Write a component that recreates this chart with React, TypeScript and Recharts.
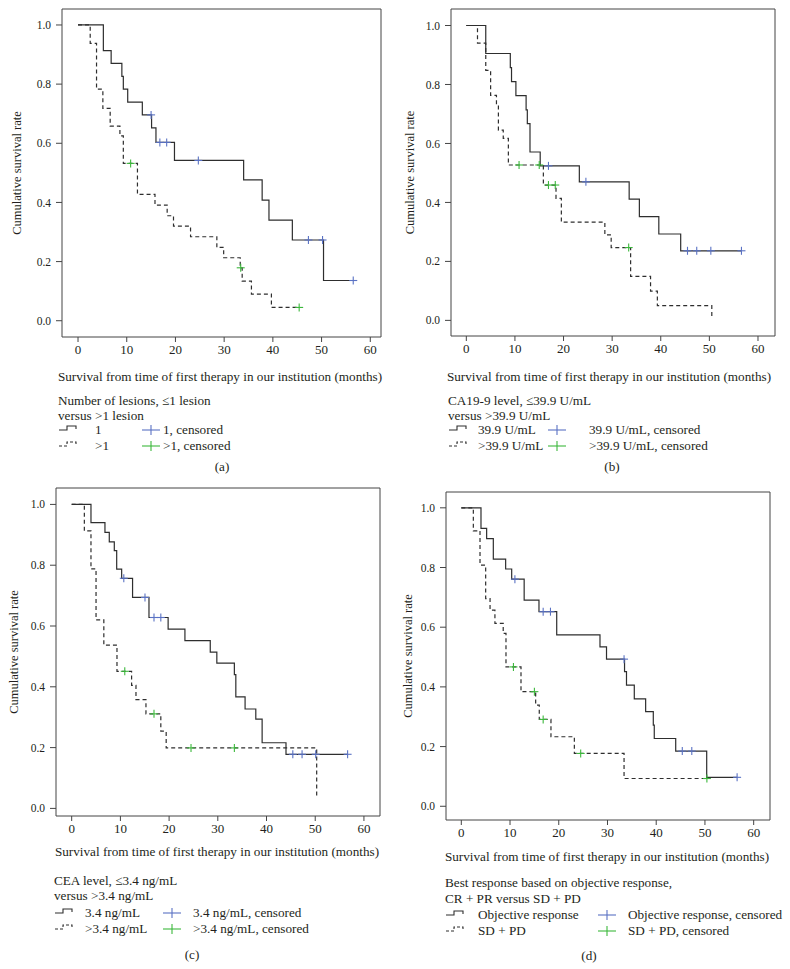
import React from 'react';
import { ComposedChart, Line, Scatter, XAxis, YAxis, ReferenceArea } from 'recharts';

// (a) number of lesions
const aMonths1 = [0, 5.2, 6.8, 9.0, 9.3, 10.2, 13.2, 15.1, 16.0, 19.8, 34.0, 37.8, 39.2, 44.0, 50.4, 56.5];
const aSurv1 = [1, 0.913, 0.87, 0.826, 0.783, 0.739, 0.696, 0.652, 0.603, 0.542, 0.476, 0.408, 0.34, 0.273, 0.136, 0.136];
const aCensMonths1 = [15.0, 16.8, 18.2, 24.7, 47.3, 50.2, 56.5];
const aCensSurv1 = [0.696, 0.603, 0.603, 0.542, 0.273, 0.273, 0.136];
const aMonths2 = [0, 2.5, 3.8, 5.1, 6.6, 8.6, 9.3, 12.2, 15.8, 18.3, 19.6, 23.1, 28.5, 29.9, 33.3, 33.7, 35.6, 39.7, 45.4];
const aSurv2 = [1, 0.938, 0.783, 0.718, 0.658, 0.625, 0.532, 0.427, 0.391, 0.355, 0.32, 0.284, 0.248, 0.213, 0.179, 0.134, 0.09, 0.045, 0.045];
const aCensMonths2 = [10.8, 33.4, 45.4];
const aCensSurv2 = [0.532, 0.179, 0.045];

// (b) CA19-9
const bMonths1 = [0, 4.0, 9.05, 9.3, 10.2, 12.3, 12.55, 13.1, 15.2, 23.25, 33.5, 35.6, 39.6, 44.1, 56.6];
const bSurv1 = [1, 0.905, 0.857, 0.81, 0.762, 0.714, 0.667, 0.571, 0.524, 0.47, 0.411, 0.352, 0.293, 0.236, 0.236];
const bCensMonths1 = [16.9, 24.6, 45.5, 47.4, 50.3, 56.6];
const bCensSurv1 = [0.524, 0.47, 0.236, 0.236, 0.236, 0.236];
const bMonths2 = [0, 2.3, 4.0, 5.0, 6.2, 6.6, 7.6, 8.65, 15.85, 18.45, 19.55, 28.5, 29.8, 33.8, 37.9, 39.3, 50.5];
const bSurv2 = [1, 0.94, 0.848, 0.763, 0.73, 0.645, 0.617, 0.527, 0.459, 0.414, 0.333, 0.29, 0.247, 0.149, 0.099, 0.05, 0.01];
const bCensMonths2 = [10.85, 15.0, 16.9, 18.3, 33.4];
const bCensSurv2 = [0.527, 0.527, 0.459, 0.459, 0.247];

// (c) CEA
const cMonths1 = [0, 3.96, 6.83, 7.72, 8.75, 9.24, 10.26, 12.5, 15.87, 19.8, 23.25, 28.45, 29.8, 33.4, 33.7, 35.6, 37.8, 39.1, 44.0, 56.65];
const cSurv1 = [1, 0.94, 0.908, 0.877, 0.848, 0.787, 0.757, 0.694, 0.628, 0.59, 0.552, 0.514, 0.478, 0.44, 0.367, 0.327, 0.294, 0.216, 0.178, 0.178];
const cCensMonths1 = [10.7, 15.05, 16.9, 18.3, 45.4, 47.3, 50.1, 56.65];
const cCensSurv1 = [0.757, 0.694, 0.628, 0.628, 0.178, 0.178, 0.178, 0.178];
const cMonths2 = [0, 2.6, 3.96, 5.0, 6.6, 9.3, 12.3, 13.2, 15.25, 18.3, 19.4, 50.3];
const cSurv2 = [1, 0.913, 0.788, 0.62, 0.537, 0.451, 0.405, 0.358, 0.311, 0.254, 0.199, 0.04];
const cCensMonths2 = [10.9, 16.9, 24.5, 33.4];
const cCensSurv2 = [0.451, 0.311, 0.199, 0.199];

// (d) best response
const dMonths1 = [0, 4.04, 5.2, 6.57, 9.1, 10.34, 12.9, 15.94, 19.58, 28.46, 29.8, 33.5, 33.9, 35.5, 37.83, 39.4, 39.6, 44.0, 50.36, 56.6];
const dSurv1 = [1, 0.931, 0.897, 0.828, 0.795, 0.761, 0.691, 0.652, 0.574, 0.534, 0.493, 0.451, 0.406, 0.36, 0.317, 0.272, 0.227, 0.185, 0.097, 0.097];
const dCensMonths1 = [11.0, 16.8, 18.3, 33.4, 45.35, 47.3, 56.6];
const dCensSurv1 = [0.761, 0.652, 0.652, 0.493, 0.185, 0.185, 0.097];
const dMonths2 = [0, 2.47, 3.84, 5.0, 5.9, 6.9, 8.6, 9.17, 12.25, 15.26, 16.0, 18.4, 23.2, 33.4, 50.4];
const dSurv2 = [1, 0.923, 0.808, 0.696, 0.657, 0.613, 0.579, 0.467, 0.384, 0.339, 0.291, 0.233, 0.177, 0.093, 0.093];
const dCensMonths2 = [10.7, 15.0, 16.8, 24.5, 50.4];
const dCensSurv2 = [0.467, 0.384, 0.291, 0.177, 0.093];

const monthTicks = [0, 10, 20, 30, 40, 50, 60];
const survTicks = [0, 0.2, 0.4, 0.6, 0.8, 1.0];
const xTitle = 'Survival from time of first therapy in our institution (months)';
const yTitle = 'Cumulative survival rate';

const zip = (t: number[], s: number[]) => t.map((v, i) => ({ t: v, s: s[i] }));

const FONT = '"Liberation Serif", "Times New Roman", serif';
const INK = '#231f20';
const LINE = '#2e2e2e';
const BLUE = '#5a72c4';
const GREEN = '#3cb83c';
const FS = 13.2;

const cross = (color: string) => (props: any) => {
  const { cx, cy } = props;
  if (cx == null || cy == null) return <g />;
  return (
    <g>
      <line x1={cx - 4} x2={cx + 4} y1={cy} y2={cy} stroke={color} strokeWidth={1.1} />
      <line x1={cx} x2={cx} y1={cy - 4} y2={cy + 4} stroke={color} strokeWidth={1.1} />
    </g>
  );
};

const panels = [
  {
    id: 'a', frame: [62, 9, 381, 337], xDomain: [-3.29, 62.2], yDomain: [-0.055, 1.054], yTitleX: 17,
    s1: zip(aMonths1, aSurv1), s2: zip(aMonths2, aSurv2),
    c1: zip(aCensMonths1, aCensSurv1), c2: zip(aCensMonths2, aCensSurv2),
  },
  {
    id: 'b', frame: [451, 9, 775, 336], xDomain: [-3.15, 63.5], yDomain: [-0.053, 1.056], yTitleX: 410,
    s1: zip(bMonths1, bSurv1), s2: zip(bMonths2, bSurv2),
    c1: zip(bCensMonths1, bCensSurv1), c2: zip(bCensMonths2, bCensSurv2),
  },
  {
    id: 'c', frame: [56, 488, 380, 816], xDomain: [-3.22, 63.3], yDomain: [-0.025, 1.054], yTitleX: 14,
    s1: zip(cMonths1, cSurv1), s2: zip(cMonths2, cSurv2),
    c1: zip(cCensMonths1, cCensSurv1), c2: zip(cCensMonths2, cCensSurv2),
  },
  {
    id: 'd', frame: [446, 492, 770, 820], xDomain: [-3.14, 63.35], yDomain: [-0.046, 1.053], yTitleX: 408,
    s1: zip(dMonths1, dSurv1), s2: zip(dMonths2, dSurv2),
    c1: zip(dCensMonths1, dCensSurv1), c2: zip(dCensMonths2, dCensSurv2),
  },
];

const KMPanel = ({ p }: { p: any }) => {
  const [L, T, R, B] = p.frame;
  const yw = 56;
  const xh = 28;
  const pad = 6;
  return (
    <div style={{ position: 'absolute', left: L - yw, top: T - pad }}>
      <ComposedChart
        width={R - L + yw + pad}
        height={B - T + pad + xh}
        margin={{ top: pad, right: pad, left: 0, bottom: 0 }}
      >
        <XAxis
          type="number"
          dataKey="t"
          domain={p.xDomain}
          ticks={monthTicks}
          allowDataOverflow
          axisLine={false}
          tickSize={5}
          tickMargin={3}
          height={xh}
          tickLine={{ stroke: '#444' }}
          tick={{ fontFamily: FONT, fontSize: 13, fill: INK }}
        />
        <YAxis
          type="number"
          dataKey="s"
          domain={p.yDomain}
          ticks={survTicks}
          allowDataOverflow
          axisLine={false}
          width={yw}
          tickSize={6}
          tickMargin={5}
          tickLine={{ stroke: '#444' }}
          tickFormatter={(v: number) => v.toFixed(1)}
          tick={{ fontFamily: FONT, fontSize: 11.5, fill: INK }}
        />
        <ReferenceArea
          x1={p.xDomain[0]} x2={p.xDomain[1]} y1={p.yDomain[0]} y2={p.yDomain[1]}
          fill="none" stroke="#444" strokeWidth={1} ifOverflow="visible"
        />
        <Line data={p.s2} dataKey="s" type="stepAfter" stroke={LINE} strokeWidth={1.2}
          strokeDasharray="4 3" dot={false} activeDot={false} isAnimationActive={false} />
        <Line data={p.s1} dataKey="s" type="stepAfter" stroke={LINE} strokeWidth={1.2}
          dot={false} activeDot={false} isAnimationActive={false} />
        <Scatter data={p.c1} dataKey="s" shape={cross(BLUE)} isAnimationActive={false} />
        <Scatter data={p.c2} dataKey="s" shape={cross(GREEN)} isAnimationActive={false} />
      </ComposedChart>
    </div>
  );
};

const legends = [
  {
    titleX: 220, titleY: 381, x: 58, lab: 95, cs: 142, cl: 163,
    lines: ['Number of lesions, \u22641 lesion', 'versus >1 lesion'], ly: [405, 420, 434, 450],
    rows: ['1', '>1'], crow: ['1, censored', '>1, censored'], cap: '(a)', capX: 222, capY: 471,
  },
  {
    titleX: 609, titleY: 381, x: 448, lab: 478, cs: 548, cl: 589,
    lines: ['CA19-9 level, \u226439.9 U/mL', 'versus >39.9 U/mL'], ly: [405, 420, 434, 450],
    rows: ['39.9 U/mL', '>39.9 U/mL'], crow: ['39.9 U/mL, censored', '>39.9 U/mL, censored'], cap: '(b)', capX: 612, capY: 471,
  },
  {
    titleX: 217, titleY: 856, x: 54, lab: 85, cs: 163, cl: 193,
    lines: ['CEA level, \u22643.4 ng/mL', 'versus >3.4 ng/mL'], ly: [885, 900, 917, 933],
    rows: ['3.4 ng/mL', '>3.4 ng/mL'], crow: ['3.4 ng/mL, censored', '>3.4 ng/mL, censored'], cap: '(c)', capX: 192, capY: 959,
  },
  {
    titleX: 607, titleY: 861, x: 445, lab: 478, cs: 598, cl: 628,
    lines: ['Best response based on objective response,', 'CR + PR versus SD + PD'], ly: [887, 903, 919, 935],
    rows: ['Objective response', 'SD + PD'], crow: ['Objective response, censored', 'SD + PD, censored'], cap: '(d)', capX: 589, capY: 960,
  },
];

const StepGlyph = ({ x, y, dashed }: { x: number; y: number; dashed?: boolean }) => (
  <path
    d={`M${x},${y} H${x + 8} V${y - 4} H${x + 17} V${y - 1}`}
    fill="none" stroke={LINE} strokeWidth={1.1} strokeDasharray={dashed ? '3 2' : undefined}
  />
);

const Overlay = () => (
  <svg width={790} height={969} style={{ position: 'absolute', left: 0, top: 0, pointerEvents: 'none' }}
    fontFamily={FONT} fill={INK}>
    {legends.map((g, i) => {
      const [, T, , B] = panels[i].frame;
      const yc = (T + B) / 2;
      const ytx = panels[i].yTitleX + 4;
      return (
        <g key={i}>
          <text x={ytx} y={yc} fontSize={12.5} textAnchor="middle" transform={`rotate(-90 ${ytx} ${yc})`}>{yTitle}</text>
          <text x={g.titleX} y={g.titleY} fontSize={FS} textAnchor="middle">{xTitle}</text>
          <text x={g.x} y={g.ly[0]} fontSize={FS}>{g.lines[0]}</text>
          <text x={g.x} y={g.ly[1]} fontSize={FS}>{g.lines[1]}</text>
          {[0, 1].map((r) => (
            <g key={r}>
              <StepGlyph x={g.x + 1} y={g.ly[r + 2] - 4} dashed={r === 1} />
              <text x={g.lab} y={g.ly[r + 2]} fontSize={FS}>{g.rows[r]}</text>
              <line x1={g.cs} x2={g.cs + 18} y1={g.ly[r + 2] - 4} y2={g.ly[r + 2] - 4} stroke={r === 0 ? BLUE : GREEN} strokeWidth={1.1} />
              <line x1={g.cs + 9} x2={g.cs + 9} y1={g.ly[r + 2] - 9} y2={g.ly[r + 2] + 1} stroke={r === 0 ? BLUE : GREEN} strokeWidth={1.1} />
              <text x={g.cl} y={g.ly[r + 2]} fontSize={FS}>{g.crow[r]}</text>
            </g>
          ))}
          <text x={g.capX} y={g.capY} fontSize={FS} textAnchor="middle">{g.cap}</text>
        </g>
      );
    })}
  </svg>
);

export default function App() {
  return (
    <div style={{ position: 'absolute', left: 0, top: 0, width: 790, height: 969, background: '#fff' }}>
      {panels.map((p) => (
        <KMPanel key={p.id} p={p} />
      ))}
      <Overlay />
    </div>
  );
}
